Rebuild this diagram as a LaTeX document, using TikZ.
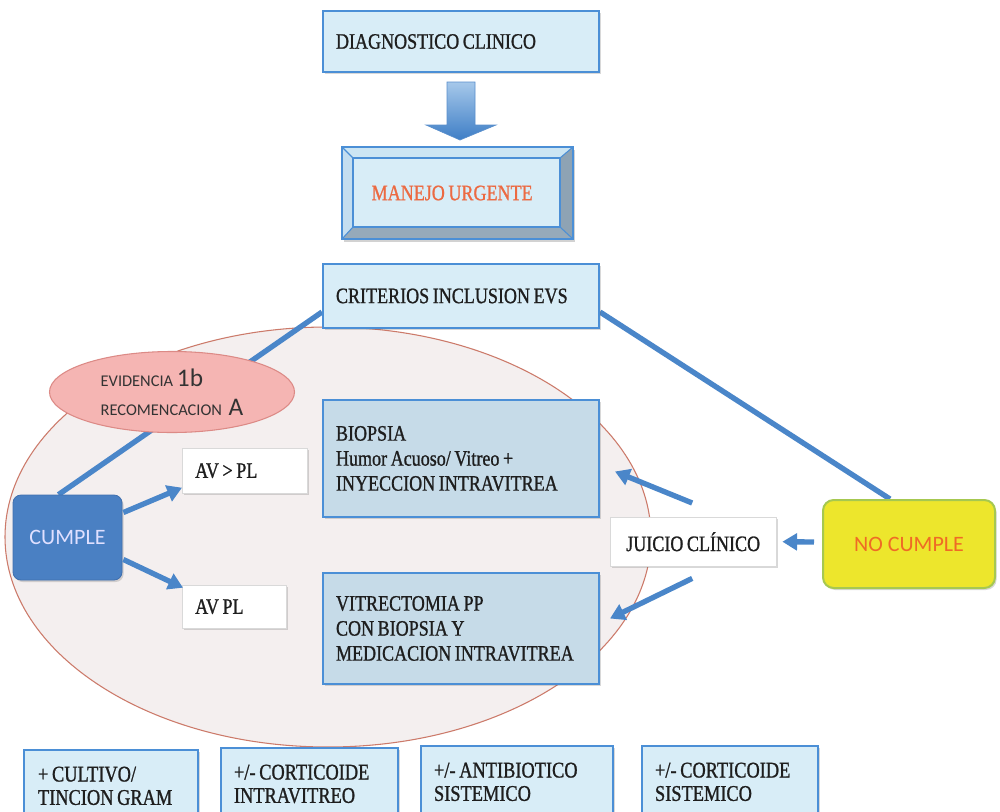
\documentclass[tikz,border=0pt]{standalone}
\usepackage{fontspec}
\setmainfont[FakeStretch=0.82,FakeBold=1,WordSpace=0.8]{Liberation Serif}
\newfontfamily\sansf{Carlito}
\usetikzlibrary{shapes.geometric,arrows.meta,calc,shadows}
\pgfdeclarelayer{bgzero}
\pgfdeclarelayer{bgone}
\pgfsetlayers{bgzero,bgone,main}
\definecolor{connblue}{HTML}{4A86C9}
\definecolor{boxedge}{HTML}{4B8FD6}
\definecolor{lightbox}{HTML}{D8EDF7}
\definecolor{graybox}{HTML}{C6DBE8}
\definecolor{ellfill}{HTML}{F4EFEF}
\definecolor{ellred}{HTML}{CC7A6A}
\definecolor{pinkfill}{HTML}{F5B5B3}
\definecolor{pinkedge}{HTML}{DC8A86}
\definecolor{cumplefill}{HTML}{4A80C3}
\definecolor{cumpleedge}{HTML}{3F6FAE}
\definecolor{yellowfill}{HTML}{EDE62C}
\definecolor{yellowedge}{HTML}{A6C850}
\definecolor{orangetxt}{HTML}{EF6B25}
\definecolor{manejotxt}{HTML}{EC6A42}
\definecolor{txt}{HTML}{1E1E1E}
\definecolor{bevtop}{HTML}{CCE5F3}
\definecolor{bevleft}{HTML}{C4DEF0}
\definecolor{bevright}{HTML}{8EA3B4}
\definecolor{bevbottom}{HTML}{96AABA}
\definecolor{arrtop}{HTML}{A6C8EA}
\definecolor{arrbottom}{HTML}{3E7EC6}
\definecolor{arredge}{HTML}{5A8FCC}
\begin{document}
\begin{tikzpicture}[x=0.75pt,y=-0.75pt,
  shad/.style={drop shadow={shadow xshift=1.2pt,shadow yshift=-1.5pt,opacity=0.25,fill=black!60}},
  lbox/.style={draw=boxedge,line width=1.5pt,fill=lightbox,align=flush left,inner xsep=9.75pt,inner ysep=0pt,
    text=txt,font=\fontsize{16.5}{18.75}\selectfont,shad},
  gbox/.style={lbox,fill=graybox},
  wbox/.style={fill=white,draw=white!85!black,line width=0.3pt,align=flush left,inner xsep=9.75pt,inner ysep=0pt,
    text=txt,font=\fontsize{16.5}{18.75}\selectfont,shad},
  bbox/.style={lbox,font=\fontsize{16.8}{17.5}\selectfont,inner ysep=12.5pt,anchor=north west},
  conn/.style={draw=connblue,line width=4pt},
  arr/.style={conn,-{Triangle[length=11pt,width=12.5pt]}},
]
\useasboundingbox (0,0) rectangle (1000,811);
\clip (0,0) rectangle (1000,811);

% background and large region
\begin{pgfonlayer}{bgzero}
  \fill[white] (0,0) rectangle (1000,811);
  \node[ellipse,draw=ellred,line width=0.8pt,fill=ellfill,minimum width=484.5pt,minimum height=315pt,inner sep=0pt] (region) at (328,537) {};
\end{pgfonlayer}

% top boxes
\node[lbox,minimum height=45.75pt,text width=187.5pt,anchor=north west] (diag) at (322,10) {DIAGNOSTICO CLINICO};
\node[align=center,minimum width=173.25pt,minimum height=69pt,outer sep=0pt,inner sep=0pt,
  text=manejotxt,font=\fontsize{16.5}{18.75}\selectfont,anchor=north west] (manejo) at (342,147) {MANEJO URGENTE\hspace{8pt}};
\node[lbox,minimum height=48pt,text width=187.5pt,anchor=north west] (crit) at (322,263) {CRITERIOS INCLUSION EVS};

% middle boxes
\node[gbox,minimum height=87.75pt,text width=187.5pt,anchor=north west] (bio) at (322,399)
  {BIOPSIA\\Humor Acuoso/ Vitreo +\\INYECCION INTRAVITREA};
\node[gbox,minimum height=83.25pt,text width=187.5pt,anchor=north west] (vit) at (322,572)
  {VITRECTOMIA PP\\CON BIOPSIA Y\\MEDICACION INTRAVITREA};

\node[wbox,minimum height=33.75pt,text width=74.25pt,anchor=north west] (avgt) at (182,448) {AV > PL};
\node[wbox,minimum height=32.25pt,text width=58.5pt,anchor=north west] (avpl) at (182,585) {AV PL};
\node[wbox,minimum width=124.5pt,minimum height=36.75pt,align=center,anchor=north west] (juicio) at (610,517) {JUICIO CLÍNICO};

\node[ellipse,draw=pinkedge,line width=0.8pt,fill=pinkfill,minimum width=183.75pt,minimum height=60.75pt,inner sep=0pt,
  align=left,text=black!80,font=\sansf\fontsize{12.3}{21.5}\selectfont] (evid) at (172,392)
  {EVIDENCIA {\fontsize{19}{19}\selectfont 1b}\\RECOMENCACION\hspace{5pt}{\fontsize{19}{19}\selectfont A}};

\node[rounded corners=6pt,fill=cumplefill,draw=cumpleedge,line width=0.6pt,minimum width=81.75pt,minimum height=63.75pt,
  text=white!88!blue,font=\sansf\fontsize{16.5}{19}\selectfont,shad] (cumple) at (67.5,537.5) {CUMPLE};

\node[rounded corners=8pt,fill=yellowfill,draw=yellowedge,line width=1.5pt,minimum width=129pt,minimum height=66pt,
  text=orangetxt,font=\sansf\fontsize{16.5}{19}\selectfont,shad] (nocumple) at (909,544) {NO CUMPLE};

% bottom boxes
\node[bbox,text width=109.5pt,inner xsep=10.5pt] (b1) at (23,749) {+ CULTIVO/\\TINCION GRAM};
\node[bbox,text width=113.25pt] (b2) at (220,747) {+/- CORTICOIDE\\INTRAVITREO};
\node[bbox,text width=124.5pt] (b3) at (420,745) {+/- ANTIBIOTICO\\SISTEMICO};
\node[bbox,text width=112.5pt] (b4) at (641,745) {+/- CORTICOIDE\\SISTEMICO};

% bevel of MANEJO URGENTE
\begin{pgfonlayer}{bgone}
  \coordinate (o1) at (manejo.north west);
  \coordinate (o2) at (manejo.north east);
  \coordinate (o3) at (manejo.south east);
  \coordinate (o4) at (manejo.south west);
  \coordinate (i1) at ($(manejo.north west)+(11,11)$);
  \coordinate (i2) at ($(manejo.north east)+(-13,11)$);
  \coordinate (i3) at ($(manejo.south east)+(-13,-12)$);
  \coordinate (i4) at ($(manejo.south west)+(11,-12)$);
  \fill[black!35,opacity=0.5] ($(o1)+(2,3)$) -- ($(o2)+(2,3)$) -- ($(o3)+(2,3)$) -- ($(o4)+(2,3)$) -- cycle;
  \fill[bevtop] (o1) -- (o2) -- (i2) -- (i1) -- cycle;
  \fill[bevleft] (o1) -- (i1) -- (i4) -- (o4) -- cycle;
  \fill[bevright] (o2) -- (o3) -- (i3) -- (i2) -- cycle;
  \fill[bevbottom] (o4) -- (i4) -- (i3) -- (o3) -- cycle;
  \fill[lightbox] (i1) rectangle (i3);
  \draw[boxedge,line width=0.8pt] (o1) -- (i1) (o2) -- (i2) (o3) -- (i3) (o4) -- (i4);
  \draw[boxedge,line width=0.9pt] (i1) rectangle (i3);
  \draw[boxedge,line width=1.6pt] (o1) rectangle (o3);

  % connectors behind nodes
  \draw[conn] ($(crit.south west)+(0,-17)$) -- ($(cumple.north)+(-9,0)$);
  \draw[conn] ($(crit.south east)+(0,-17)$) -- ($(nocumple.north)+(-19,0)$);
\end{pgfonlayer}

% big block arrow between DIAGNOSTICO and MANEJO
\shade[top color=arrtop,bottom color=arrbottom,draw=arredge,line width=0.5pt]
  ($(diag.south)+(-14,9)$) -- ($(diag.south)+(14,9)$) -- ($(diag.south)+(14,52)$) -- ($(diag.south)+(35,52)$)
  -- ($(manejo.north)+(2.5,-7)$) -- ($(diag.south)+(-35,52)$) -- ($(diag.south)+(-14,52)$) -- cycle;

% arrows
\draw[arr] ($(cumple.east)+(1,-25)$) -- ($(avgt.west)+(0,17)$);
\draw[arr] ($(cumple.east)+(1,22)$) -- ($(avpl.west)+(1,-19)$);
\draw[arr] ($(nocumple.west)+(-8,-2)$) -- ($(juicio.east)+(6,0)$);
\draw[arr] ($(juicio.north)+(-1,-14)$) -- ($(bio.east)+(15,13)$);
\draw[arr] ($(juicio.south)+(-1,12)$) -- ($(vit.east)+(10,-10)$);
\end{tikzpicture}
\end{document}
